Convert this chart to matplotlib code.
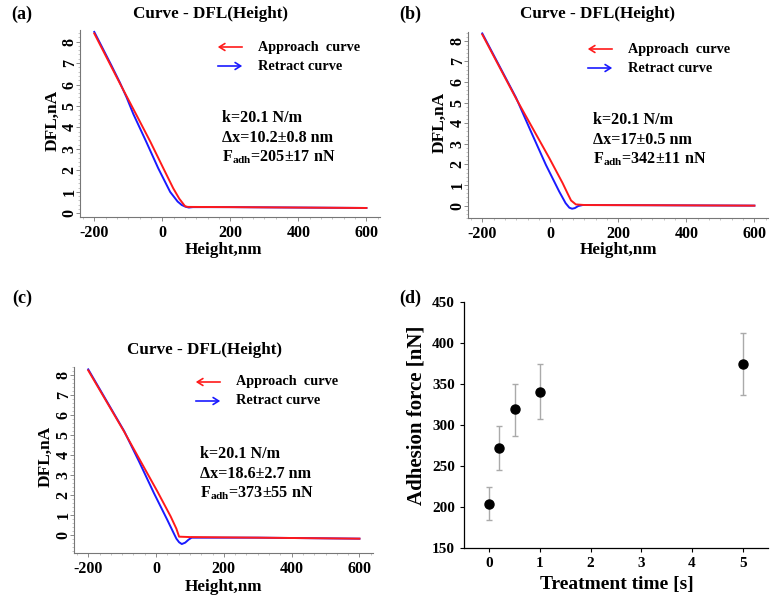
import matplotlib
matplotlib.use("Agg")
import matplotlib.pyplot as plt
from matplotlib.patches import FancyArrowPatch
from matplotlib.ticker import MultipleLocator

plt.rcParams["font.family"] = ["Liberation Serif", "DejaVu Serif"]
plt.rcParams["font.weight"] = "bold"
plt.rcParams["axes.unicode_minus"] = False
plt.rcParams["mathtext.fontset"] = "custom"
plt.rcParams["mathtext.bf"] = "Liberation Serif:bold"
plt.rcParams["mathtext.rm"] = "Liberation Serif:bold"

# ---- data ----
# (a)
a_app_x = [-200, -125, -75, -35, 3, 32, 50, 67, 75, 200, 400, 600]
a_app_y = [8.38, 6.06, 4.55, 3.33, 2.10, 1.17, 0.68, 0.33, 0.30, 0.29, 0.27, 0.25]
a_ret_x = [-200, -150, -125, -105, -85, -48, -12, 23, 45, 57, 68, 78, 90, 200, 400, 600]
a_ret_y = [8.45, 6.90, 6.10, 5.40, 4.62, 3.36, 2.10, 1.00, 0.55, 0.39, 0.31, 0.27, 0.29, 0.29, 0.27, 0.25]
# (b)
b_app_x = [-200, -101, -52, -3, 36, 52, 61, 75, 100, 300, 600]
b_app_y = [8.31, 5.21, 3.76, 2.31, 1.10, 0.55, 0.25, 0.06, 0.03, 0.02, 0.0]
b_ret_x = [-200, -101, -57, -13, 26, 45, 56, 64, 72, 82, 95, 300, 600]
b_ret_y = [8.36, 5.25, 3.60, 1.98, 0.69, 0.12, -0.10, -0.15, -0.12, -0.02, 0.03, 0.02, 0.0]
# (c)
c_app_x = [-200, -94, -45, 4, 43, 60, 68, 100, 300, 600]
c_app_y = [8.25, 5.17, 3.67, 2.17, 0.92, 0.30, -0.10, -0.12, -0.15, -0.20]
c_ret_x = [-200, -94, -50, -6, 33, 50, 60, 68, 76, 86, 96, 105, 300, 600]
c_ret_y = [8.30, 5.20, 3.67, 2.08, 0.75, 0.15, -0.20, -0.38, -0.47, -0.40, -0.25, -0.15, -0.15, -0.20]

# (d)
times = [0, 0.2, 0.5, 1, 5]
force = [204, 272, 319, 340, 375]
force_lo = [184, 245, 287, 307, 337]
force_hi = [225, 299, 350, 374, 412]

notes_a = ["k=20.1 N/m", "\u0394x=10.2\u00b10.8 nm", "F$_{\\mathbf{adh}}$=205\u00b117 nN"]
notes_b = ["k=20.1 N/m", "\u0394x=17\u00b10.5 nm", "F$_{\\mathbf{adh}}$=342\u00b111 nN"]
notes_c = ["k=20.1 N/m", "\u0394x=18.6\u00b12.7 nm", "F$_{\\mathbf{adh}}$=373\u00b155 nN"]

W, H = 781, 600
fig = plt.figure(figsize=(W / 100, H / 100), dpi=100)


def fx(px):
    return px / W


def fy(py):
    return 1 - py / H


def add_axes(left, top, right, bottom):
    return fig.add_axes([fx(left), fy(bottom), fx(right - left), (bottom - top) / H])


def curve_panel(ax, app_x, app_y, ret_x, ret_y, ylim, notes, title_xy, leg_xy, note_xy,
                xlab_xy, ylab_xy):
    ax.plot(ret_x, ret_y, color="#1a1aff", lw=1.4)
    ax.plot(app_x, app_y, color="#ff1a1a", lw=1.4)
    ax.set_xlim(-242, 640)
    ax.set_ylim(*ylim)
    ax.xaxis.set_major_locator(MultipleLocator(200))
    ax.xaxis.set_minor_locator(MultipleLocator(200 / 6))
    ax.yaxis.set_major_locator(MultipleLocator(1))
    ax.yaxis.set_minor_locator(MultipleLocator(0.2))
    for s in ["top", "right"]:
        ax.spines[s].set_visible(False)
    for s in ["left", "bottom"]:
        ax.spines[s].set_color("#777777")
        ax.spines[s].set_linewidth(0.8)
    ax.tick_params(which="major", length=3, width=0.6, color="#777777", labelsize=11.5)
    ax.tick_params(which="minor", length=1.5, width=0.4, color="#999999")
    ax.tick_params(axis="y", labelrotation=90, pad=-1.3)
    ax.tick_params(axis="x", pad=3)
    for lab in ax.get_yticklabels():
        lab.set_va("center")
    ax.set_xlabel("Height,nm", fontsize=12.3, fontweight="bold")
    ax.set_ylabel("DFL,nA", fontsize=12.5, fontweight="bold")
    ax.xaxis.set_label_coords(fx(xlab_xy[0]), fy(xlab_xy[1] - 8), transform=fig.transFigure)
    ax.yaxis.set_label_coords(fx(ylab_xy[0] + 11), fy(ylab_xy[1]), transform=fig.transFigure)
    fig.text(fx(title_xy[0]), fy(title_xy[1]), "Curve - DFL(Height)", fontsize=12.3,
             fontweight="bold", ha="center", va="center")
    # legend drawn by hand: arrows + labels
    lx, ly = leg_xy
    fig.add_artist(FancyArrowPatch(
        (fx(lx + 30), fy(ly)), (fx(lx), fy(ly)), transform=fig.transFigure,
        arrowstyle="->,head_length=4,head_width=2.5", color="#ff1a1a", lw=1.2))
    fig.add_artist(FancyArrowPatch(
        (fx(lx), fy(ly + 19)), (fx(lx + 30), fy(ly + 19)), transform=fig.transFigure,
        arrowstyle="->,head_length=4,head_width=2.5", color="#1a1aff", lw=1.2))
    fig.text(fx(lx + 43), fy(ly), "Approach  curve", fontsize=10.3, fontweight="bold",
             ha="left", va="center")
    fig.text(fx(lx + 43), fy(ly + 19), "Retract curve", fontsize=10.3, fontweight="bold",
             ha="left", va="center")
    nx, ny = note_xy
    for i, t in enumerate(notes):
        fig.text(fx(nx), fy(ny + 19.5 * i), t, fontsize=11.6, fontweight="bold",
                 ha="left", va="center")


ax_a = add_axes(80, 30, 380, 217)
curve_panel(ax_a, a_app_x, a_app_y, a_ret_x, a_ret_y, (-0.17, 8.54), notes_a,
            (211, 14), (215, 47), (222, 118), (223, 250), (50, 120))

ax_b = add_axes(468, 32, 768, 218)
curve_panel(ax_b, b_app_x, b_app_y, b_ret_x, b_ret_y, (-0.6, 8.43), notes_b,
            (598, 14), (585, 49), (593, 120), (618, 250), (437, 122))

ax_c = add_axes(74, 367, 373, 553)
curve_panel(ax_c, c_app_x, c_app_y, c_ret_x, c_ret_y, (-0.92, 8.42), notes_c,
            (205, 350), (193, 382), (200, 454), (223, 587), (43, 456))

# (d) adhesion force vs treatment time
ax_d = add_axes(464, 302, 768, 548)
err = [[f - lo for f, lo in zip(force, force_lo)], [hi - f for f, hi in zip(force, force_hi)]]
ax_d.errorbar(times, force, yerr=err, fmt="o", color="black", ms=6.5,
              ecolor="#aaaaaa", elinewidth=1.0, capsize=2.5, capthick=1.0)
ax_d.set_xlim(-0.5, 5.5)
ax_d.set_ylim(150, 450)
ax_d.xaxis.set_major_locator(MultipleLocator(1))
ax_d.yaxis.set_major_locator(MultipleLocator(50))
for s in ["top", "right"]:
    ax_d.spines[s].set_visible(False)
for s in ["left", "bottom"]:
    ax_d.spines[s].set_linewidth(0.9)
ax_d.tick_params(length=3, width=0.8, labelsize=11)
ax_d.set_xlabel("Treatment time [s]", fontsize=14, fontweight="bold")
ax_d.set_ylabel("Adhesion force [nN]", fontsize=15, fontweight="bold")
ax_d.xaxis.set_label_coords(fx(617), fy(576), transform=fig.transFigure)
ax_d.yaxis.set_label_coords(fx(427), fy(415), transform=fig.transFigure)

# panel letters
for lab, (px, py) in {"(a)": (22, 14), "(b)": (410, 14), "(c)": (22, 298), "(d)": (410, 298)}.items():
    fig.text(fx(px), fy(py), lab, fontsize=13, fontweight="bold", ha="center", va="center")

fig.savefig("out.png", dpi=100)
